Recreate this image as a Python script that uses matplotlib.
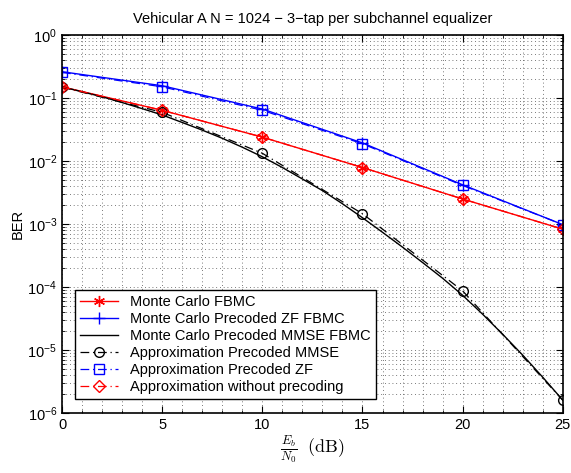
import matplotlib
matplotlib.use('Agg')
import matplotlib.pyplot as plt
from matplotlib.ticker import MultipleLocator, LogLocator, NullFormatter

plt.rcParams['font.family'] = ['Liberation Sans', 'DejaVu Sans']
plt.rcParams['mathtext.fontset'] = 'cm'

# Eb/N0 grids (dB)
snr_fine = list(range(26))
snr_coarse = [0, 5, 10, 15, 20, 25]

# Monte Carlo results
ber_mc_fbmc = [0.151, 0.064, 0.024, 0.0079, 0.0025, 8.3e-4]
ber_mc_zf = [0.262, 0.157, 0.067, 0.0194, 0.0042, 9.8e-4]
ber_mc_mmse = [0.151, 0.126, 0.105, 0.085, 0.068, 0.054, 0.041, 0.031, 0.023,
               0.0166, 0.0117, 0.0079, 0.0052, 0.0034, 0.0021, 0.00126,
               7.4e-4, 4.3e-4, 2.45e-4, 1.38e-4, 7.4e-5, 3.7e-5, 1.78e-5,
               8.3e-6, 3.7e-6, 1.6e-6]

# analytical approximations
ber_ap_mmse = [0.149, 0.0594, 0.0133, 1.46e-3, 8.7e-5, 1.6e-6]
ber_ap_zf = [0.256, 0.151, 0.064, 0.0188, 0.0041, 9.8e-4]
ber_ap_fbmc = [0.150, 0.064, 0.024, 0.0079, 0.0025, 8.3e-4]

dashdot = (0, (7, 3, 1, 3))
asterisk = (6, 2, 0)

fig = plt.figure(figsize=(5.71, 4.73), dpi=100)
ax = fig.add_axes([0.1086, 0.1268, 0.877, 0.799])

ax.semilogy(snr_coarse, ber_mc_fbmc, '-', color='red', marker=asterisk, ms=8,
            mew=1.0, lw=1.0, label='Monte Carlo FBMC')
ax.semilogy(snr_coarse, ber_mc_zf, '-', color='blue', marker='+', ms=8,
            mew=1.0, lw=1.0, label='Monte Carlo Precoded ZF FBMC')
ax.semilogy(snr_fine, ber_mc_mmse, '-', color='black', lw=1.0,
            label='Monte Carlo Precoded MMSE FBMC')
ax.semilogy(snr_coarse, ber_ap_mmse, ls=dashdot, color='black', marker='o',
            ms=7, mfc='none', lw=0.9, label='Approximation Precoded MMSE')
ax.semilogy(snr_coarse, ber_ap_zf, ls=dashdot, color='blue', marker='s',
            ms=6.5, mfc='none', lw=0.9, label='Approximation Precoded ZF')
ax.semilogy(snr_coarse, ber_ap_fbmc, ls=dashdot, color='red', marker='D',
            ms=6, mfc='none', lw=0.9, label='Approximation without precoding')

ax.set_xlim(0, 25)
ax.set_ylim(1e-6, 1)
ax.xaxis.set_major_locator(MultipleLocator(5))
ax.xaxis.set_minor_locator(MultipleLocator(1))
ax.yaxis.set_major_locator(LogLocator(base=10, numticks=10))
ax.yaxis.set_minor_locator(LogLocator(base=10, subs=range(2, 10), numticks=10))
ax.yaxis.set_minor_formatter(NullFormatter())

ax.grid(True, which='both', ls=(0, (1, 3.5)), color='0.3', lw=0.6)
ax.tick_params(which='both', direction='in', top=True, right=True, labelsize=10.5)
ax.tick_params(which='major', length=5)
ax.tick_params(which='minor', length=2.5)
for s in ax.spines.values():
    s.set_linewidth(1.2)

ax.set_title('Vehicular A N = 1024 \u2212 3\u2212tap per subchannel equalizer',
             fontsize=10.5, pad=9)
ax.set_xlabel(r'$\frac{E_b}{N_0}$  $\mathrm{(dB)}$', fontsize=13, labelpad=1)
ax.set_ylabel('BER', fontsize=10.5, labelpad=2)

leg = ax.legend(loc='lower left', fontsize=10.5, fancybox=False, framealpha=1,
                edgecolor='black', handlelength=2.6, labelspacing=0.2,
                borderpad=0.35, bbox_to_anchor=(0.012, 0.018))
leg.get_frame().set_linewidth(1.0)

fig.savefig('out.png', dpi=100)
